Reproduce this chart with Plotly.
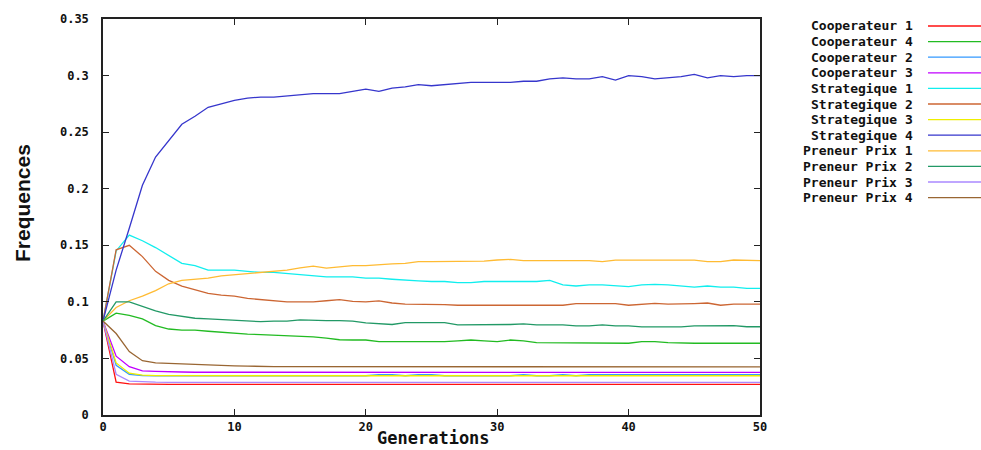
import plotly.graph_objects as go

generations = list(range(51))

coop1 = [0.083, 0.029, 0.0275, 0.0272, 0.0271, 0.0271, 0.0271, 0.0271, 0.0271, 0.0271,
         0.0271, 0.0271, 0.0271, 0.0271, 0.0271, 0.0271, 0.0271, 0.0271, 0.0271, 0.0271,
         0.0271, 0.0271, 0.0271, 0.0271, 0.0271, 0.0271, 0.0271, 0.0271, 0.0271, 0.0271,
         0.0271, 0.0271, 0.0271, 0.0271, 0.0271, 0.0271, 0.0271, 0.0271, 0.0271, 0.0271,
         0.0271, 0.0271, 0.0271, 0.0271, 0.0271, 0.0271, 0.0271, 0.0271, 0.0271, 0.0271,
         0.0271]
coop4 = [0.083, 0.090, 0.088, 0.085, 0.079, 0.076, 0.075, 0.075, 0.074, 0.073,
         0.072, 0.0715, 0.071, 0.0705, 0.070, 0.0698, 0.069, 0.068, 0.0665, 0.0663,
         0.0663, 0.0648, 0.0648, 0.0648, 0.0648, 0.0648, 0.0648, 0.0655, 0.0663, 0.0655,
         0.0648, 0.0663, 0.0655, 0.064, 0.064, 0.064, 0.0634, 0.0634, 0.0634, 0.0634,
         0.0634, 0.0648, 0.0648, 0.064, 0.0634, 0.0634, 0.0634, 0.0634, 0.0634, 0.0634,
         0.0634]
coop2 = [0.083, 0.044, 0.036, 0.0348, 0.0347, 0.0347, 0.0347, 0.0347, 0.0347, 0.0347,
         0.0347, 0.0347, 0.0347, 0.0347, 0.0347, 0.0347, 0.0347, 0.0347, 0.0347, 0.0347,
         0.0347, 0.0356, 0.0356, 0.0347, 0.0356, 0.0356, 0.0347, 0.0347, 0.0347, 0.0347,
         0.0347, 0.0347, 0.0356, 0.0347, 0.0347, 0.0356, 0.0347, 0.0356, 0.0356, 0.0356,
         0.0356, 0.0356, 0.0356, 0.0356, 0.0356, 0.0356, 0.0356, 0.0356, 0.0356, 0.0356,
         0.0356]
coop3 = [0.083, 0.052, 0.0427, 0.039, 0.0385, 0.038, 0.038, 0.0378, 0.0378, 0.0378,
         0.0377, 0.0377, 0.0377, 0.0377, 0.0377, 0.0377, 0.0377, 0.0377, 0.0377, 0.0377,
         0.0377, 0.0377, 0.0377, 0.0377, 0.0377, 0.0377, 0.0377, 0.0377, 0.0377, 0.0377,
         0.0377, 0.0377, 0.0377, 0.0377, 0.0377, 0.0377, 0.0377, 0.0377, 0.0377, 0.0377,
         0.0377, 0.0377, 0.0377, 0.0377, 0.0377, 0.0377, 0.0377, 0.0377, 0.0377, 0.0377,
         0.0377]
strat1 = [0.083, 0.145, 0.159, 0.154, 0.148, 0.141, 0.134, 0.132, 0.128, 0.128,
          0.128, 0.127, 0.126, 0.126, 0.125, 0.124, 0.123, 0.122, 0.122, 0.122,
          0.121, 0.121, 0.120, 0.119, 0.1185, 0.118, 0.118, 0.117, 0.117, 0.118,
          0.118, 0.118, 0.118, 0.118, 0.119, 0.115, 0.114, 0.115, 0.115, 0.114,
          0.1135, 0.115, 0.1155, 0.115, 0.114, 0.113, 0.114, 0.113, 0.113, 0.112,
          0.112]
strat2 = [0.083, 0.146, 0.150, 0.140, 0.127, 0.119, 0.114, 0.111, 0.1075, 0.106,
          0.105, 0.103, 0.102, 0.1015, 0.100, 0.100, 0.100, 0.101, 0.102, 0.1005,
          0.100, 0.1008, 0.099, 0.098, 0.098, 0.098, 0.0975, 0.097, 0.097, 0.097,
          0.097, 0.097, 0.097, 0.097, 0.097, 0.097, 0.0985, 0.0987, 0.0987, 0.0985,
          0.097, 0.098, 0.0987, 0.098, 0.098, 0.0985, 0.099, 0.097, 0.098, 0.098,
          0.098]
strat3 = [0.083, 0.046, 0.037, 0.0352, 0.0348, 0.0347, 0.0347, 0.0347, 0.0347, 0.0347,
          0.0347, 0.0347, 0.0347, 0.0347, 0.0347, 0.0347, 0.0347, 0.0347, 0.0347, 0.0347,
          0.0347, 0.0347, 0.0347, 0.0347, 0.0347, 0.0347, 0.0347, 0.0347, 0.0347, 0.0347,
          0.0347, 0.0347, 0.0347, 0.0347, 0.0347, 0.0347, 0.0347, 0.0347, 0.0347, 0.0347,
          0.0347, 0.0347, 0.0347, 0.0347, 0.0347, 0.0347, 0.0347, 0.0347, 0.0347, 0.0347,
          0.0347]
strat4 = [0.083, 0.128, 0.165, 0.203, 0.228, 0.243, 0.257, 0.264, 0.272, 0.275,
          0.278, 0.280, 0.281, 0.281, 0.282, 0.283, 0.284, 0.284, 0.284, 0.286,
          0.288, 0.286, 0.289, 0.290, 0.292, 0.291, 0.292, 0.293, 0.294, 0.294,
          0.294, 0.294, 0.295, 0.295, 0.297, 0.298, 0.297, 0.297, 0.299, 0.296,
          0.300, 0.299, 0.297, 0.298, 0.299, 0.301, 0.298, 0.300, 0.299, 0.300,
          0.300]
pp1 = [0.083, 0.095, 0.101, 0.105, 0.110, 0.116, 0.119, 0.120, 0.121, 0.123,
       0.124, 0.1255, 0.126, 0.127, 0.128, 0.130, 0.1315, 0.1298, 0.131, 0.132,
       0.132, 0.133, 0.1335, 0.134, 0.1355, 0.1355, 0.1355, 0.1355, 0.136, 0.136,
       0.137, 0.1375, 0.1365, 0.1365, 0.1365, 0.1365, 0.1365, 0.1365, 0.1355, 0.1368,
       0.1368, 0.1368, 0.137, 0.137, 0.137, 0.1368, 0.1355, 0.1355, 0.137, 0.137,
       0.1365]
pp2 = [0.083, 0.100, 0.100, 0.096, 0.092, 0.089, 0.087, 0.0855, 0.085, 0.0845,
       0.084, 0.083, 0.0825, 0.083, 0.083, 0.084, 0.0835, 0.0834, 0.0834, 0.083,
       0.0815, 0.081, 0.080, 0.0816, 0.0816, 0.0816, 0.0816, 0.0796, 0.0796, 0.0796,
       0.0796, 0.080, 0.0805, 0.0796, 0.0796, 0.0796, 0.0787, 0.0787, 0.0796, 0.0787,
       0.0787, 0.0778, 0.0778, 0.0778, 0.0778, 0.0787, 0.079, 0.079, 0.079, 0.078,
       0.078]
pp3 = [0.083, 0.036, 0.030, 0.0292, 0.029, 0.0289, 0.0289, 0.0289, 0.0289, 0.0289,
       0.0289, 0.0289, 0.0289, 0.0289, 0.0289, 0.0289, 0.0289, 0.0289, 0.0289, 0.0289,
       0.0289, 0.0289, 0.0289, 0.0289, 0.0289, 0.0289, 0.0289, 0.0289, 0.0289, 0.0289,
       0.0289, 0.0289, 0.0289, 0.0289, 0.0289, 0.0289, 0.0289, 0.0289, 0.0289, 0.0289,
       0.0289, 0.0289, 0.0289, 0.0289, 0.0289, 0.0289, 0.0289, 0.0289, 0.0289, 0.0289,
       0.0289]
pp4 = [0.083, 0.072, 0.056, 0.048, 0.046, 0.0455, 0.045, 0.0445, 0.044, 0.044,
       0.0435, 0.0432, 0.0428, 0.0428, 0.0428, 0.0428, 0.0425, 0.0425, 0.0425, 0.0425,
       0.0425, 0.0425, 0.0425, 0.0425, 0.0425, 0.0425, 0.0425, 0.0425, 0.0425, 0.0425,
       0.0425, 0.0425, 0.0425, 0.0425, 0.0425, 0.0425, 0.0425, 0.0425, 0.0425, 0.0425,
       0.0425, 0.0425, 0.0425, 0.0425, 0.0425, 0.0425, 0.0425, 0.0425, 0.0425, 0.0425,
       0.0425]

series_names = ["Cooperateur 1", "Cooperateur 4", "Cooperateur 2", "Cooperateur 3",
                "Strategique 1", "Strategique 2", "Strategique 3", "Strategique 4",
                "Preneur Prix 1", "Preneur Prix 2", "Preneur Prix 3", "Preneur Prix 4"]
series_values = [coop1, coop4, coop2, coop3, strat1, strat2, strat3, strat4, pp1, pp2, pp3, pp4]
series_colors = ["#ff1010", "#22bb22", "#3399ff", "#c000ff",
                 "#11eeee", "#cc6633", "#eeee00", "#3636cc",
                 "#ffbb33", "#229966", "#aa88ff", "#996633"]

y_tickvals = [0, 0.05, 0.1, 0.15, 0.2, 0.25, 0.3, 0.35]
y_ticktext = ["0", "0.05", "0.1", "0.15", "0.2", "0.25", "0.3", "0.35"]
x_tickvals = [0, 10, 20, 30, 40, 50]
x_ticktext = ["0", "10", "20", "30", "40", "50"]

# plot area in pixels
W, H = 981, 450
L, R, T, B = 103, 760, 19, 415
pw, ph = R - L, B - T

fig = go.Figure()
for name, vals, col in zip(series_names, series_values, series_colors):
    fig.add_trace(go.Scatter(x=generations, y=vals, mode="lines", name=name,
                             line=dict(color=col, width=1.3), showlegend=False))

tickfont = dict(family="DejaVu Sans Mono", size=12, color="#111", weight="bold")
fig.update_layout(
    width=W, height=H,
    margin=dict(l=L, r=W - R, t=T, b=H - B, pad=0),
    paper_bgcolor="white", plot_bgcolor="white",
    xaxis=dict(range=[0, 50], tickvals=x_tickvals, ticktext=x_ticktext,
               showgrid=False, zeroline=False, showline=True, linecolor="#222",
               linewidth=1.5, mirror="ticks", ticks="inside", ticklen=6,
               tickcolor="#222", tickfont=tickfont, ticklabelstandoff=0),
    yaxis=dict(range=[0, 0.35], tickvals=y_tickvals, ticktext=y_ticktext,
               showgrid=False, zeroline=False, showline=True, linecolor="#222",
               linewidth=1.5, mirror="ticks", ticks="inside", ticklen=6,
               tickcolor="#222", tickfont=tickfont, ticklabelstandoff=10),
)

annotations = [
    dict(text="Generations", xref="paper", yref="paper", x=(433 - L) / pw, y=(B - 450) / ph,
         xanchor="center", yanchor="bottom", showarrow=False,
         font=dict(family="DejaVu Sans Mono", size=17, color="#111", weight="bold")),
    dict(text="Frequences", xref="paper", yref="paper", x=(22 - L) / pw, y=(B - 203) / ph,
         xanchor="center", yanchor="middle", showarrow=False, textangle=-90,
         font=dict(family="Liberation Sans", size=21, color="#111", weight="bold")),
]
shapes = []
row0, row_step = 26, 15.6
for i, (name, col) in enumerate(zip(series_names, series_colors)):
    ypx = row0 + i * row_step
    annotations.append(dict(text=name, xref="paper", yref="paper", x=(915 - L) / pw,
                            y=(B - ypx) / ph, xanchor="right", yanchor="middle",
                            showarrow=False,
                            font=dict(family="DejaVu Sans Mono", size=13, color="#111",
                                      weight="bold")))
    shapes.append(dict(type="line", xref="paper", yref="paper",
                       x0=(928 - L) / pw, x1=(985 - L) / pw,
                       y0=(B - ypx) / ph, y1=(B - ypx) / ph,
                       line=dict(color=col, width=1.3)))
fig.update_layout(annotations=annotations, shapes=shapes)

fig.write_html("out.html", config={"displayModeBar": False},
               post_script="document.body.style.margin='0';")
